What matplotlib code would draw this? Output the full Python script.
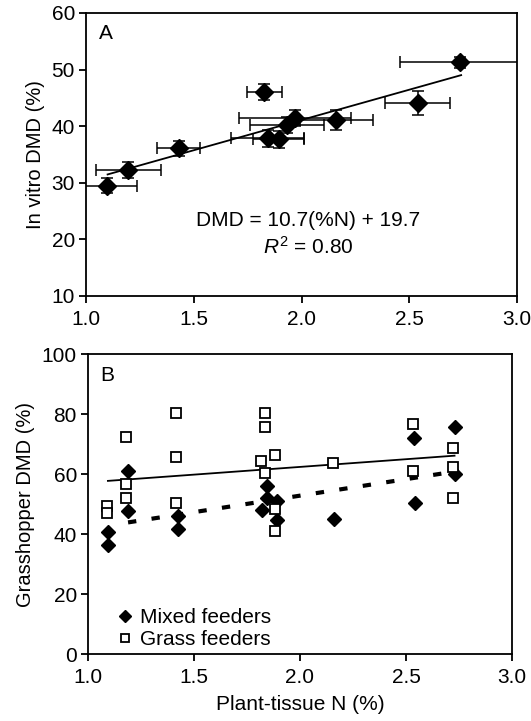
import numpy as np
import matplotlib
matplotlib.use("Agg")
import matplotlib.pyplot as plt

plt.rcParams["font.family"] = ["Liberation Sans", "DejaVu Sans"]
plt.rcParams["mathtext.fontset"] = "custom"
plt.rcParams["mathtext.rm"] = "Liberation Sans"
plt.rcParams["mathtext.it"] = "Liberation Sans:italic"

# panel A: in vitro DMD vs plant N (means with SE bars)
a_n = [1.096, 1.197, 1.429, 1.827, 1.842, 1.893, 1.932, 1.970, 2.161, 2.539, 2.737]
a_dmd = [29.5, 32.2, 36.1, 46.0, 37.9, 37.7, 40.2, 41.4, 41.1, 44.1, 51.3]
a_xerr = [0.14, 0.15, 0.10, 0.08, 0.17, 0.12, 0.17, 0.26, 0.17, 0.15, 0.28]
a_yerr = [1.3, 1.4, 1.3, 1.4, 1.5, 1.5, 1.4, 1.4, 1.7, 2.2, 1.0]
a_slope, a_icpt = 10.7, 19.7
a_fit_range = [1.1, 2.74]

# panel B: grasshopper DMD
mixed_n = [1.095, 1.095, 1.189, 1.189, 1.425, 1.425, 1.843, 1.819, 1.843, 1.890, 1.890,
           2.161, 2.540, 2.543, 2.729, 2.729]
mixed_dmd = [40.6, 36.3, 61.1, 47.7, 46.1, 41.7, 56.0, 48.0, 51.9, 51.0, 44.7,
             45.0, 71.9, 50.2, 75.6, 59.9]
grass_n = [1.090, 1.090, 1.181, 1.181, 1.181, 1.414, 1.414, 1.414, 1.835, 1.835, 1.814,
           1.882, 1.835, 1.882, 1.882, 2.154, 2.532, 2.532, 2.724, 2.724, 2.724]
grass_dmd = [49.4, 46.9, 72.4, 56.7, 52.1, 80.2, 65.6, 50.2, 80.4, 75.8, 64.3,
             66.3, 60.2, 48.3, 41.1, 63.8, 76.6, 61.1, 68.8, 62.4, 52.1]
grass_slope, grass_icpt = 5.14, 52.1
grass_range = [1.094, 2.729]
mixed_slope, mixed_icpt = 11.0, 30.8
mixed_range = [1.189, 2.724]

fig = plt.figure(figsize=(5.31, 7.21), dpi=100)
axA = fig.add_axes([0.162, 0.5895, 0.812, 0.3925])
axB = fig.add_axes([0.1657, 0.0929, 0.7985, 0.416])

fs = 15
for ax in (axA, axB):
    for s in ax.spines.values():
        s.set_linewidth(1.3)
    ax.tick_params(direction="out", length=5, width=1.3, labelsize=fs, pad=3)
    ax.tick_params(axis="x", pad=5)
    ax.set_xlim(1.0, 3.0)
    ax.set_xticks([1.0, 1.5, 2.0, 2.5, 3.0])
    ax.set_xticklabels(["1.0", "1.5", "2.0", "2.5", "3.0"])

# panel A
axA.errorbar(a_n, a_dmd, xerr=a_xerr, yerr=a_yerr, fmt="D", color="black",
             ms=9, elinewidth=1.1, capsize=4, capthick=1.1, zorder=3)
xf = np.array(a_fit_range)
axA.plot(xf, a_slope * xf + a_icpt, color="black", lw=1.3, zorder=2)
axA.set_ylim(10, 60)
axA.set_yticks(range(10, 61, 10))
axA.set_ylabel("In vitro DMD (%)", fontsize=14.5, labelpad=5)
axA.text(0.03, 0.96, "A", transform=axA.transAxes, fontsize=fs, va="top", ha="left")
axA.text(2.03, 23.4, "DMD = 10.7(%N) + 19.7", fontsize=fs, ha="center", va="center")
axA.text(2.03, 18.6, r"$\it{R}^2$ = 0.80", fontsize=fs, ha="center", va="center")

# panel B
axB.plot(mixed_n, mixed_dmd, "D", color="black", ms=7.5, ls="none", label="Mixed feeders", zorder=3)
axB.plot(grass_n, grass_dmd, "s", mfc="white", mec="black", mew=1.3, ms=7, ls="none",
         label="Grass feeders", zorder=3)
xg = np.array(grass_range)
axB.plot(xg, grass_slope * xg + grass_icpt, color="black", lw=1.3, zorder=2)
xm = np.array(mixed_range)
dl, = axB.plot(xm, mixed_slope * xm + mixed_icpt, color="black", lw=3, zorder=2)
dl.set_dashes((2.0, 3.7))
axB.set_ylim(0, 100)
axB.set_yticks(range(0, 101, 20))
axB.set_ylabel("Grasshopper DMD (%)", fontsize=14.5, labelpad=5)
axB.set_xlabel("Plant-tissue N (%)", fontsize=fs, labelpad=6)
axB.text(0.03, 0.96, "B", transform=axB.transAxes, fontsize=fs, va="top", ha="left")
axB.legend(loc="lower left", frameon=False, fontsize=fs, handletextpad=0.0,
           borderaxespad=0.2, labelspacing=0.15, markerscale=0.8, handlelength=1.5,
           bbox_to_anchor=(0.02, -0.025))

fig.savefig("out.png", dpi=100)
